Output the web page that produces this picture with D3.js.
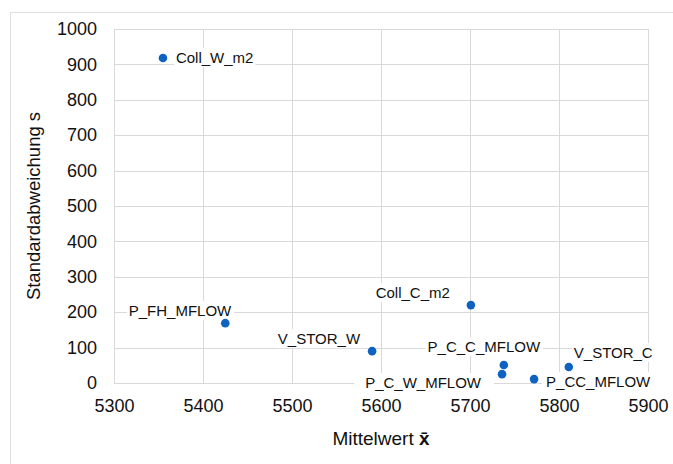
<!DOCTYPE html>
<html>
<head>
<meta charset="utf-8">
<script src="https://cdn.jsdelivr.net/npm/d3@7"></script>
<style>
	html, body { margin: 0; padding: 0; background: #fff; }
	text { font-family: "Liberation Sans", Arial, sans-serif; fill: #111; }
</style>
</head>
<body>
<div id="js_chart"></div>
<script>
// data
var names = ['Coll_W_m2', 'P_FH_MFLOW', 'V_STOR_W', 'Coll_C_m2', 'P_C_C_MFLOW', 'P_C_W_MFLOW', 'P_CC_MFLOW', 'V_STOR_C'];
var meanValues = [5355, 5425, 5590, 5701, 5738, 5736, 5772, 5811];
var sdValues = [918, 169, 90, 220, 51, 25, 11, 45];
var xTicks = [5300, 5400, 5500, 5600, 5700, 5800, 5900];
var yTicks = [0, 100, 200, 300, 400, 500, 600, 700, 800, 900, 1000];

// label placement (pixels relative to the marker)
var labelPlace = {
	'Coll_W_m2':   { anchor: 'start',  dx: 13,  dy: 5,   padL: 2,  padR: 2 },
	'P_FH_MFLOW':  { anchor: 'end',    dx: 6,   dy: -7,  padL: 2,  padR: 2 },
	'V_STOR_W':    { anchor: 'end',    dx: -12, dy: -7,  padL: 2,  padR: 2 },
	'Coll_C_m2':   { anchor: 'end',    dx: -21, dy: -7,  padL: 2,  padR: 2 },
	'P_C_C_MFLOW': { anchor: 'middle', dx: -20, dy: -13, padL: 2,  padR: 2 },
	'P_C_W_MFLOW': { anchor: 'end',    dx: -21, dy: 14,  padL: 11, padR: 12 },
	'P_CC_MFLOW':  { anchor: 'start',  dx: 12,  dy: 8,   padL: 4,  padR: 4 },
	'V_STOR_C':    { anchor: 'start',  dx: 5,   dy: -9,  padL: 2,  padR: 2 }
};

var width = 673, height = 464;
var gridColor = 'rgb(217,217,217)';
var dotColor = 'rgb(14,99,193)';
var plot = { left: 114, right: 648, top: 29, bottom: 383 };

var svg = d3.select('#js_chart').append('svg')
	.attr('width', width)
	.attr('height', height);

// outer chart frame
svg.append('rect')
	.attr('x', 10.5).attr('y', 12.5)
	.attr('width', width + 10).attr('height', height + 10)
	.style('fill', 'none')
	.style('stroke', 'rgb(222,222,222)')
	.style('stroke-width', 1);

var x = d3.scaleLinear().domain([5300, 5900]).range([plot.left, plot.right]);
var y = d3.scaleLinear().domain([0, 1000]).range([plot.bottom, plot.top]);

// gridlines
var gx = svg.append('g')
	.attr('transform', 'translate(0,' + plot.bottom + ')')
	.call(d3.axisBottom(x).tickValues(xTicks).tickSize(-(plot.bottom - plot.top)).tickFormat(''));
var gy = svg.append('g')
	.attr('transform', 'translate(' + plot.left + ',0)')
	.call(d3.axisLeft(y).tickValues(yTicks).tickSize(-(plot.right - plot.left)).tickFormat(''));
[gx, gy].forEach(function (g) {
	g.select('.domain').remove();
	g.selectAll('line').style('stroke', gridColor).style('stroke-width', 1).attr('shape-rendering', 'crispEdges');
});

// tick labels
var tx = svg.append('g')
	.attr('transform', 'translate(0,' + plot.bottom + ')')
	.call(d3.axisBottom(x).tickValues(xTicks).tickSize(0).tickPadding(16).tickFormat(d3.format('d')));
var ty = svg.append('g')
	.attr('transform', 'translate(' + plot.left + ',0)')
	.call(d3.axisLeft(y).tickValues(yTicks).tickSize(0).tickPadding(17).tickFormat(d3.format('d')));
[tx, ty].forEach(function (g) {
	g.select('.domain').remove();
	g.selectAll('text')
		.style('font-family', '"Liberation Sans", Arial, sans-serif')
		.style('font-size', '18px')
		.style('fill', '#111');
});

// axis titles
svg.append('text')
	.attr('transform', 'translate(40,' + ((plot.top + plot.bottom) / 2) + ') rotate(-90)')
	.style('text-anchor', 'middle')
	.style('font-size', '18.5px')
	.text('Standardabweichung s');

var xTitle = svg.append('text')
	.attr('x', (plot.left + plot.right) / 2)
	.attr('y', 445)
	.style('text-anchor', 'middle')
	.style('font-size', '19px');
xTitle.append('tspan').text('Mittelwert  ');
xTitle.append('tspan').style('font-weight', 'bold').text('x\u0304');

// data labels with white boxes
var points = names.map(function (n, i) {
	return { name: n, mx: meanValues[i], sd: sdValues[i] };
});

var labels = svg.selectAll('.lbl')
	.data(points).enter().append('g')
	.classed('lbl', true);
labels.append('text')
	.attr('x', function (d) { return x(d.mx) + labelPlace[d.name].dx; })
	.attr('y', function (d) { return y(d.sd) + labelPlace[d.name].dy; })
	.style('text-anchor', function (d) { return labelPlace[d.name].anchor; })
	.style('font-size', '15px')
	.text(function (d) { return d.name; });
labels.each(function (d) {
	var bb = d3.select(this).select('text').node().getBBox();
	var p = labelPlace[d.name];
	d3.select(this).insert('rect', 'text')
		.attr('x', bb.x - p.padL)
		.attr('y', bb.y - 1)
		.attr('width', bb.width + p.padL + p.padR)
		.attr('height', bb.height + 2)
		.style('fill', '#fff');
});

// markers
svg.selectAll('.dot')
	.data(points).enter().append('circle')
	.classed('dot', true)
	.attr('cx', function (d) { return x(d.mx); })
	.attr('cy', function (d) { return y(d.sd); })
	.attr('r', 4.3)
	.style('fill', dotColor);
</script>
</body>
</html>
